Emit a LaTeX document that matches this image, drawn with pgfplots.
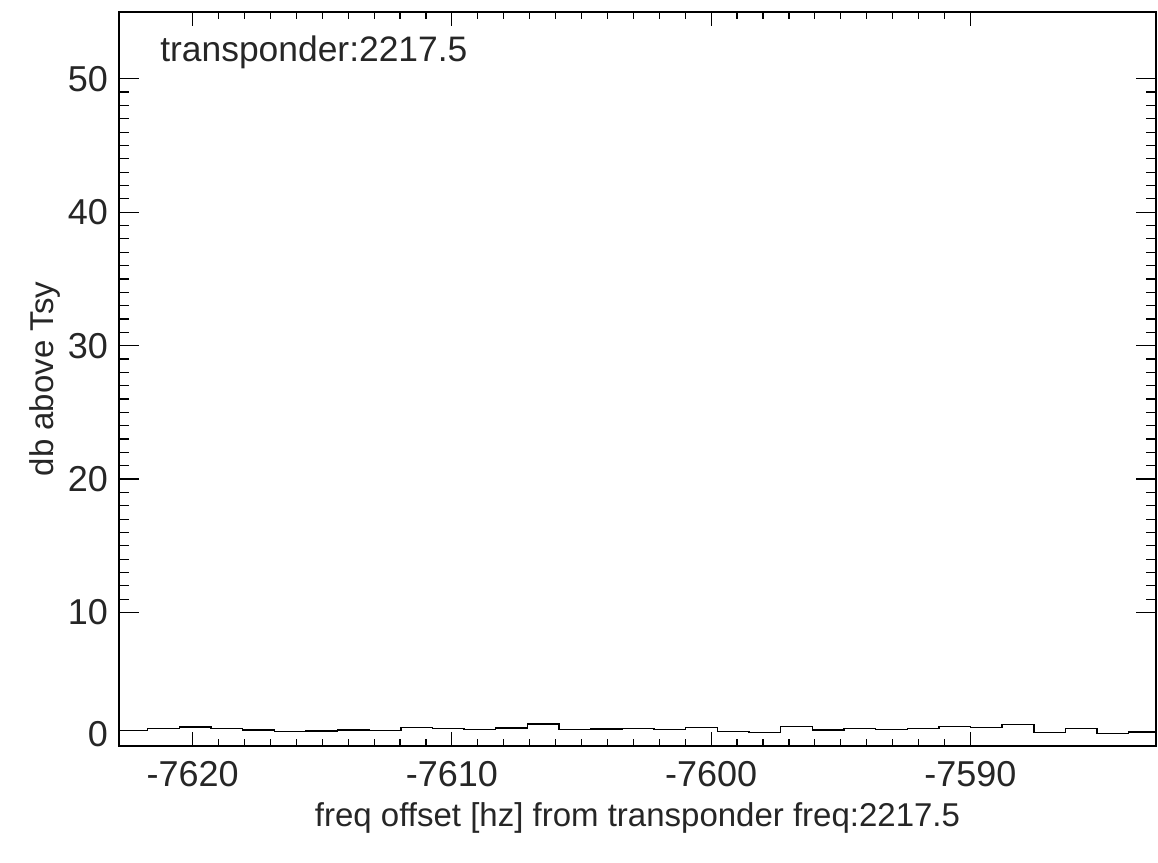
\documentclass[border=0pt]{standalone}
\usepackage{fontspec}
\setmainfont{Liberation Sans}
\usepackage{pgfplots}
\pgfplotsset{compat=1.18}
\begin{document}
\begin{tikzpicture}[font=\fontsize{18}{22}\selectfont]
\path[use as bounding box] (-59.5pt,-58.5pt) rectangle (519.5pt,373pt);
\begin{axis}[
  scale only axis,
  width=518.5pt, height=367pt,
  at={(0pt,0pt)}, anchor=south west,
  xmin=-7622.84, xmax=-7582.84,
  ymin=0, ymax=55,
  xtick={-7620,-7610,-7600,-7590},
  ytick={10,20,30,40,50},
  extra y ticks={0},
  extra y tick style={yticklabel style={yshift=6pt}},
  minor x tick num=9,
  minor y tick num=9,
  tick align=inside,
  xtick pos=both, ytick pos=both,
  x tick style={black, line width=0.6pt, /pgfplots/major tick length=7pt, /pgfplots/minor tick length=3.5pt},
  y tick style={black, line width=0.6pt, /pgfplots/major tick length=10pt, /pgfplots/minor tick length=5pt},
  axis line style={line width=0.7pt},
  /pgf/number format/assume math mode=true,
  /pgf/number format/1000 sep={},
  xticklabel style={yshift=-4pt, text=black!85},
  yticklabel style={xshift=-2pt, text=black!85},
  xlabel={freq offset [hz] from transponder freq:2217.5},
  ylabel={db above Tsy},
  xlabel style={yshift=-1pt, text=black!85, font=\fontsize{16.5}{20}\selectfont},
  ylabel style={text=black!85, font=\fontsize{16.5}{20}\selectfont, yshift=-3pt},
  clip=true,
]
\addplot[const plot mark left, black, line width=0.7pt, no marks] coordinates {
(-7622.955,1.17)
(-7621.734,1.30)
(-7620.513,1.42)
(-7619.293,1.30)
(-7618.072,1.19)
(-7616.851,1.10)
(-7615.630,1.12)
(-7614.409,1.19)
(-7613.188,1.17)
(-7611.968,1.37)
(-7610.747,1.30)
(-7609.527,1.22)
(-7608.306,1.34)
(-7607.085,1.64)
(-7605.864,1.22)
(-7604.644,1.27)
(-7603.423,1.30)
(-7602.202,1.25)
(-7600.981,1.37)
(-7599.761,1.10)
(-7598.540,1.00)
(-7597.319,1.45)
(-7596.098,1.19)
(-7594.877,1.30)
(-7593.657,1.22)
(-7592.436,1.32)
(-7591.215,1.47)
(-7589.994,1.37)
(-7588.774,1.62)
(-7587.553,1.00)
(-7586.332,1.30)
(-7585.111,0.95)
(-7583.891,1.04)
(-7582.670,1.04)
};
\node[anchor=west, inner sep=0pt, text=black!85, font=\fontsize{17.7}{21}\selectfont] at (rel axis cs:0.0395,0.9455) {transponder:2217.5};
\end{axis}
\end{tikzpicture}
\end{document}
